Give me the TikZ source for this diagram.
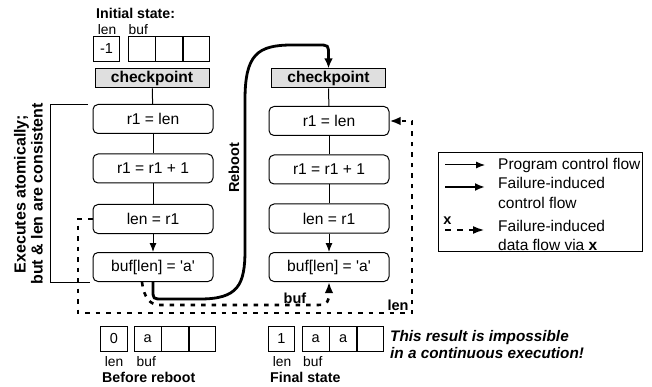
\documentclass[tikz,border=0pt]{standalone}
\usepackage{fontspec}
\setmainfont{Liberation Sans}
\usetikzlibrary{arrows.meta}
\newcommand\fsz[2]{\fontsize{#1}{#2}\selectfont}
\tikzset{
  stmt/.style={draw, line width=1pt, rounded corners=5pt, minimum width=120pt, minimum height=29pt, inner sep=0pt, font=\fsz{15.6}{17}},
  ckpt/.style={draw, line width=1pt, fill=gray!25, minimum width=114pt, minimum height=19pt, inner sep=0pt, font=\bfseries\fsz{15.6}{17}},
  cell/.style={draw, line width=0.9pt, minimum width=26.5pt, minimum height=25pt, inner sep=0pt, font=\fsz{14.5}{16}},
  lbl/.style={font=\fsz{13.8}{15}, inner sep=0pt},
  ttl/.style={font=\bfseries\fsz{14.2}{16}, inner sep=0pt, anchor=west},
  ctrl/.style={line width=1pt},
  ctrlarrow/.style={line width=1pt, -{Latex[length=9pt,width=7pt]}},
  failflow/.style={line width=2.8pt, -{Latex[length=10pt,width=8.5pt]}},
  dataflow/.style={line width=2.6pt, dash pattern=on 4.5pt off 6pt, -{Latex[length=11pt,width=8.5pt]}},
  flowlbl/.style={font=\bfseries\fsz{14.5}{16}, inner sep=0pt, anchor=base},
  legtext/.style={font=\fsz{15.5}{19.5}, inner sep=0pt, anchor=west, align=left}
}
\begin{document}
\begin{tikzpicture}[x=1pt,y=-1pt]
\useasboundingbox (0,0) rectangle (652,387);

% initial state
\node[ttl] (tinit) at (96,13) {Initial state:};
\node[cell] (il) at (106.5,49) {-1};
\node[cell, anchor=west] (ib1) at (128,49) {};
\node[cell, anchor=west] (ib2) at (ib1.east) {};
\node[cell, anchor=west] (ib3) at (ib2.east) {};
\node[lbl] (ill) at (107,30) {len};
\node[lbl, anchor=west] (ibl) at (128.5,30) {buf};

% left column
\node[ckpt] (ck1) at (152,78.5) {checkpoint};
\node[stmt] (a1) at (153,119) {r1 = len};
\node[stmt] (a2) at (153,168.5) {r1 = r1 + 1};
\node[stmt] (a3) at (153,219) {len = r1};
\node[stmt] (a4) at (153,267) {buf[len] = \textquotesingle a\textquotesingle};
\draw[ctrl] (ck1) -- (a1);
\draw[ctrl] (a1) -- (a2);
\draw[ctrl] (a2) -- (a3);
\draw[ctrlarrow] (a3) -- (a4);

% right column
\node[ckpt] (ck2) at (328.5,78.5) {checkpoint};
\node[stmt] (b1) at (329,121) {r1 = len};
\node[stmt] (b2) at (329,169.5) {r1 = r1 + 1};
\node[stmt] (b3) at (329,218.5) {len = r1};
\node[stmt] (b4) at (329,267) {buf[len] = \textquotesingle a\textquotesingle};
\draw[ctrl] (ck2) -- (b1);
\draw[ctrl] (b1) -- (b2);
\draw[ctrl] (b2) -- (b3);
\draw[ctrlarrow] (b3) -- (b4);

% bracket and its text
\coordinate (brt) at (88,105);
\coordinate (brb) at (90,282);
\draw[ctrl] (brt) -- (50,105) -- (50,282) -- (brb);
\node[rotate=90, align=center, inner sep=0pt, font=\bfseries\fsz{16}{17}] (atom) at (28.5,194) {Executes atomically;\\but \& len are consistent};

% reboot
\draw[failflow] (a4.south) -- (153,290) .. controls (153,299) .. (163,299) -- (200,299)
  .. controls (238,299) and (245,285) .. (245,250) -- (245,100)
  .. controls (245,55) and (257,45) .. (292,45) -- (318,45)
  .. controls (328.5,45) .. (328.5,55) -- (ck2.north);
\node[rotate=90, inner sep=0pt, font=\bfseries\fsz{14.5}{16}] (rb) at (234,168) {Reboot};

% data flows
\draw[dataflow] (a3.west) -- (78,219) -- (78,313) -- (412,313) -- (412,121) -- (b1.east);
\draw[dataflow] ([xshift=-11pt]a4.south) .. controls (144,298) and (150,305) .. (160,305) -- (318,305)
  .. controls (328,305) and (329,300) .. (329,294) -- (b4.south);
\node[flowlbl] (lbuf) at (295,303) {buf};
\node[flowlbl] (llen) at (398,310) {len};

% before reboot
\node[cell] (pl) at (114,339) {0};
\node[cell, anchor=west] (pb1) at (134,339) {a};
\node[cell, anchor=west] (pb2) at (pb1.east) {};
\node[cell, anchor=west] (pb3) at (pb2.east) {};
\node[lbl] (pll) at (114,362) {len};
\node[lbl, anchor=west] (pbl) at (136.5,362) {buf};
\node[ttl] (tpre) at (102,377) {Before reboot};

% final state
\node[cell] (fl) at (281.5,339) {1};
\node[cell, anchor=west] (fb1) at (302,339) {a};
\node[cell, anchor=west] (fb2) at (fb1.east) {a};
\node[cell, anchor=west] (fb3) at (fb2.east) {};
\node[lbl] (fll) at (282,362) {len};
\node[lbl, anchor=west] (fbl) at (303,362) {buf};
\node[ttl] (tfin) at (270,377) {Final state};

\node[inner sep=0pt, anchor=west, align=left, font=\bfseries\itshape\fsz{15.3}{17}] (imp) at (390,344.5) {This result is impossible\\in a continuous execution!};

% legend
\node[draw, line width=1pt, minimum width=204pt, minimum height=99pt, inner sep=0pt, anchor=north west] (leg) at (438,152) {};
\draw[ctrlarrow] (445,165) -- (485,165);
\draw[line width=2.5pt, -{Latex[length=10pt,width=8pt]}] (445,187) -- (485,187);
\draw[line width=2.4pt, dash pattern=on 6pt off 6pt, -{Latex[length=12pt,width=8pt]}] (445,230) -- (485,230);
\node[inner sep=0pt, font=\bfseries\fsz{14.5}{16}] (lx) at (447.5,221) {x};
\node[legtext] (lt1) at (498,165) {Program control flow};
\node[legtext, anchor=north west] (lt2) at (498,177.5) {Failure-induced\\control flow};
\node[legtext, anchor=north west] (lt3) at (498,220) {Failure-induced\\data flow via \textbf{x}};
\end{tikzpicture}
\end{document}
